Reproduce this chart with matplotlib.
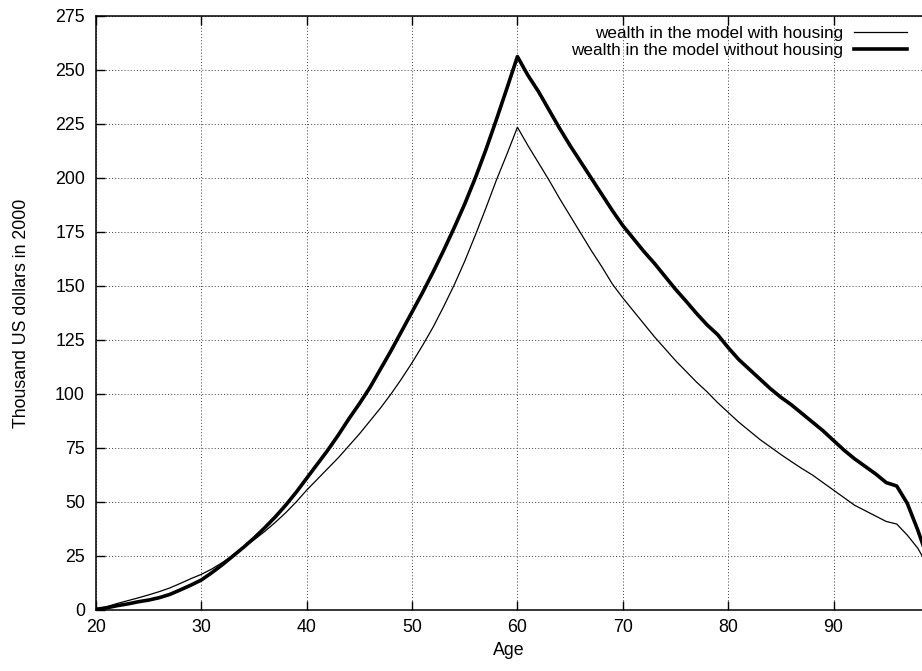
import numpy as np
import matplotlib
matplotlib.use("Agg")
import matplotlib.pyplot as plt

plt.rcParams['font.family'] = ['Liberation Sans', 'DejaVu Sans']

ages = np.arange(20, 100)

# wealth in the model without housing (thousand US dollars in 2000)
wealth_no_housing = [
    0.3, 1.0, 2.0, 2.8, 3.8, 4.6, 5.7, 7.2, 9.3, 11.5,
    13.9, 17.3, 21.0, 25.0, 29.0, 33.3, 38.0, 43.0, 48.5, 54.5,
    61.0, 67.5, 74.0, 81.0, 88.5, 95.5, 103.0, 111.5, 120.0, 129.0,
    138.0, 147.0, 156.5, 166.5, 177.0, 188.0, 200.0, 213.0, 227.0, 241.5,
    256.2, 247.5, 240.0, 231.5, 223.0, 215.0, 207.5, 200.0, 192.5, 185.0,
    178.0, 172.0, 166.0, 160.5, 154.5, 148.5, 143.0, 137.3, 132.0, 127.5,
    121.5, 116.0, 111.5, 107.0, 102.5, 98.5, 95.0, 91.0, 87.0, 83.0,
    78.5, 74.0, 70.0, 66.5, 63.0, 59.0, 57.4, 49.4, 37.0, 23.0,
]

# wealth in the model with housing
wealth_housing = [
    0.3, 1.5, 3.0, 4.3, 5.6, 7.0, 8.5, 10.2, 12.3, 14.5,
    16.5, 19.0, 22.0, 25.3, 29.0, 32.5, 36.3, 40.5, 45.0, 50.0,
    55.5, 60.5, 65.5, 70.5, 76.0, 81.5, 87.5, 93.5, 100.0, 107.0,
    114.5, 122.5, 131.0, 140.5, 150.5, 161.5, 173.5, 186.0, 199.0, 211.0,
    223.5, 215.0, 207.0, 199.0, 190.5, 182.5, 174.5, 166.5, 159.0, 151.0,
    144.5, 138.5, 132.5, 126.5, 121.0, 115.5, 110.5, 105.5, 101.0, 96.0,
    91.5, 87.0, 83.0, 79.0, 75.5, 72.0, 68.7, 65.5, 62.5, 59.0,
    55.5, 52.0, 48.5, 46.0, 43.5, 41.0, 39.8, 34.7, 28.6, 20.0,
]

x_ticks = list(range(20, 100, 10))
y_ticks = list(range(0, 276, 25))

fs = 12.8

fig = plt.figure(figsize=(9.22, 6.71), dpi=100)
ax = fig.add_axes([96 / 922, 1 - 610 / 671, 826 / 922, 594 / 671])

ax.plot(ages, wealth_housing, color='black', lw=0.9,
        label='wealth in the model with housing')
ax.plot(ages, wealth_no_housing, color='black', lw=2.6,
        label='wealth in the model without housing')

ax.set_xlim(20, 98.4)
ax.set_ylim(0, 275)
ax.set_xticks(x_ticks)
ax.set_yticks(y_ticks)
ax.tick_params(direction='in', length=6.5, width=1, labelsize=fs,
               top=True, right=False)
ax.tick_params(axis='x', pad=6.5)
ax.tick_params(axis='y', pad=8)
ax.grid(True, color='0.25', lw=0.7, linestyle=(0, (1, 2.2)))
for s in ['left', 'bottom', 'top']:
    ax.spines[s].set_linewidth(1.1)
ax.spines['right'].set_visible(False)

ax.set_xlabel('Age', fontsize=fs, labelpad=4)
ax.set_ylabel('Thousand US dollars in 2000', fontsize=fs, labelpad=18)

leg = ax.legend(loc='upper right', bbox_to_anchor=(0.982, 0.983), frameon=False,
                markerfirst=False, fontsize=12.3, handlelength=3.1,
                handletextpad=0.65, labelspacing=0.1, borderpad=0,
                borderaxespad=0)

fig.savefig('out.png', dpi=100)
